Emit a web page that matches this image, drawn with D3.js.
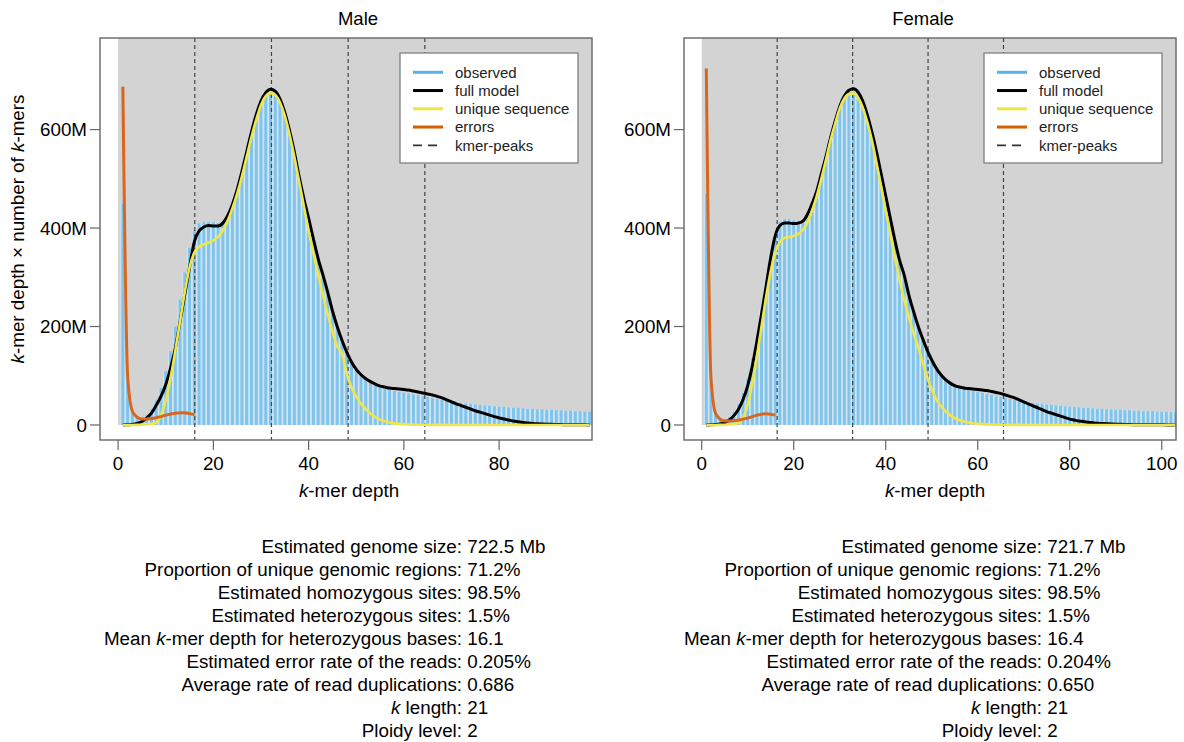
<!DOCTYPE html>
<html>
<head>
<meta charset="utf-8">
<script src="https://cdn.jsdelivr.net/npm/d3@7"></script>
<style>
  body { margin: 0; background: #fff; }
  svg { display: block; font-family: "Liberation Sans", Arial, Helvetica, sans-serif; }
</style>
</head>
<body>
<div id="chart"></div>
<script>
// ---- data (values in millions: k-mer depth x number of k-mers) ----
var maleObserved = [450, 95, 30, 16, 15, 20, 32, 50, 75, 110, 150, 200, 255, 310, 360, 395, 410, 413, 413, 412,
  410, 412, 425, 448, 478, 515, 555, 595, 630, 655, 670, 675, 672, 658, 632, 597, 555, 508, 460, 415,
  372, 333, 298, 264, 228, 197, 169, 145, 125, 110, 99, 91, 85, 80, 76, 73, 71, 69, 67, 66,
  64, 62, 61, 59, 57, 55, 53, 51, 50, 48, 46, 45, 44, 43, 42, 41, 40, 39, 38, 37,
  37, 36, 35, 35, 34, 33, 33, 32, 32, 31, 31, 30, 30, 29, 29, 28, 28, 27, 27];
var maleFull = [0, 0.5, 1, 3, 7, 14, 24, 40, 58, 82, 115, 155, 210, 265, 320, 372, 394, 402, 405, 404,
  404, 410, 425, 448, 478, 515, 555, 595, 630, 658, 675, 682, 678, 662, 635, 598, 555, 505, 460, 420,
  378, 338, 305, 270, 232, 200, 172, 148, 128, 113, 102, 94, 88, 83, 79, 77, 75, 74, 73, 72,
  71, 69, 67, 65, 63, 61, 58, 55, 51, 47, 43, 39.5, 36, 32.5, 29, 26, 23, 20, 17, 14.5,
  12, 10, 8, 6.5, 5, 4, 3.2, 2.5, 2, 1.6, 1.3, 1, 0.8, 0.6, 0.5, 0.4, 0.3, 0.3, 0.2];
var maleUnique = [0, 0, 0, 0.3, 0.8, 1.5, 2.5, 5, 20, 50, 95, 150, 210, 270, 320, 350, 362, 367, 370, 375,
  382, 395, 415, 440, 470, 505, 545, 585, 620, 650, 668, 674, 670, 655, 628, 590, 545, 495, 445, 395,
  350, 305, 265, 225, 190, 160, 145, 105, 76, 58, 43, 32, 23, 16, 11, 7.5, 5, 3.3, 2.2, 1.5,
  1, 0.7, 0.5, 0.4, 0.3, 0.3, 0.2, 0.2, 0.2, 0.1, 0.1, 0.1, 0.1, 0.1, 0.1, 0.1, 0.1, 0.1, 0.1, 0.1,
  0.1, 0.1, 0.1, 0.1, 0.1, 0.1, 0.1, 0.1, 0.1, 0.1, 0.1, 0.1, 0.1, 0.1, 0.1, 0.1, 0.1, 0.1, 0.1];
var maleErrors = [687, 100, 28, 16, 12, 12, 13, 15, 17, 20, 22, 24, 25, 25, 23, 21];
var malePeaks = [16.1, 32.2, 48.3, 64.4];

var femaleObserved = [470, 100, 28, 14, 12, 16, 26, 42, 65, 95, 135, 180, 235, 290, 345, 390, 412, 418, 418, 416,
  414, 414, 422, 442, 470, 505, 545, 585, 620, 650, 668, 676, 676, 668, 650, 622, 588, 548, 503, 458,
  414, 370, 330, 296, 260, 228, 198, 172, 149, 130, 114, 101, 92, 85, 80, 76, 73, 71, 69, 67,
  65, 63, 61, 59, 57, 55, 53, 51, 49, 48, 46, 45, 44, 43, 42, 41, 40, 39, 38, 37,
  37, 36, 35, 35, 34, 33, 33, 32, 32, 31, 31, 30, 30, 29, 29, 28, 28, 28, 27, 27,
  27, 26, 26];
var femaleFull = [0, 0.3, 0.8, 2, 5, 10, 19, 32, 52, 80, 120, 170, 225, 282, 340, 385, 405, 410, 410, 409,
  410, 414, 428, 450, 475, 510, 545, 583, 617, 647, 668, 680, 683, 676, 658, 630, 595, 555, 510, 465,
  420, 375, 335, 305, 265, 232, 202, 176, 152, 132, 115, 102, 92, 85, 80, 77, 75, 74, 73, 72,
  71, 70, 68, 66, 64, 61, 58, 55, 51, 47, 43, 39, 35, 31, 27, 24, 21, 18, 15, 12,
  10, 8, 7, 5.5, 4.5, 3.5, 3, 2.5, 2, 1.6, 1.3, 1, 0.8, 0.7, 0.6, 0.5, 0.4, 0.4, 0.3, 0.3,
  0.2, 0.2, 0.2];
var femaleUnique = [0, 0, 0, 0.2, 0.5, 1, 2, 4, 15, 42, 85, 140, 200, 260, 312, 350, 372, 380, 382, 384,
  388, 396, 412, 436, 465, 500, 538, 578, 612, 643, 663, 672, 673, 664, 645, 615, 578, 532, 485, 435,
  388, 340, 295, 255, 220, 188, 160, 128, 98, 72, 52, 38, 28, 20, 14, 10, 7, 5, 3.5, 2.5,
  1.8, 1.2, 0.8, 0.6, 0.4, 0.3, 0.3, 0.2, 0.2, 0.1, 0.1, 0.1, 0.1, 0.1, 0.1, 0.1, 0.1, 0.1, 0.1, 0.1,
  0.1, 0.1, 0.1, 0.1, 0.1, 0.1, 0.1, 0.1, 0.1, 0.1, 0.1, 0.1, 0.1, 0.1, 0.1, 0.1, 0.1, 0.1, 0.1, 0.1,
  0.1, 0.1, 0.1];
var femaleErrors = [724, 98, 24, 12, 8, 8, 9, 10, 12, 14, 17, 20, 22, 23, 22, 20];
var femalePeaks = [16.4, 32.8, 49.2, 65.6];

var yTicks = [0, 200, 400, 600];
var maleXTicks = [0, 20, 40, 60, 80];
var femaleXTicks = [0, 20, 40, 60, 80, 100];

var legendLabels = ["observed", "full model", "unique sequence", "errors", "kmer-peaks"];
var legendColors = ["#56B4E9", "#000000", "#F0E442", "#D55E00", "#333333"];

var statLabels = ["Estimated genome size", "Proportion of unique genomic regions", "Estimated homozygous sites",
  "Estimated heterozygous sites", "Mean *k*-mer depth for heterozygous bases", "Estimated error rate of the reads",
  "Average rate of read duplications", "*k* length", "Ploidy level"];
var maleStatValues = ["722.5 Mb", "71.2%", "98.5%", "1.5%", "16.1", "0.205%", "0.686", "21", "2"];
var femaleStatValues = ["721.7 Mb", "71.2%", "98.5%", "1.5%", "16.4", "0.204%", "0.650", "21", "2"];

// ---- drawing ----
var svg = d3.select("#chart").append("svg")
  .attr("width", 1184)
  .attr("height", 742);

// write text with *italic* segments as tspans
function richText(sel, str) {
  var parts = str.split("*");
  parts.forEach(function(p, i) {
    if (p === "") return;
    sel.append("tspan").style("font-style", i % 2 ? "italic" : "normal").text(p);
  });
}

function drawPanel(cfg) {
  var x = d3.scaleLinear().domain(cfg.xDomain).range([cfg.left, cfg.right]);
  var y = d3.scaleLinear().domain([-30.5, 786]).range([440, 38]);
  var g = svg.append("g");

  var clipId = "clip" + cfg.id;
  svg.append("clipPath").attr("id", clipId)
    .append("rect")
    .attr("x", cfg.left).attr("y", 38)
    .attr("width", cfg.right - cfg.left).attr("height", 402);

  var plot = g.append("g").attr("clip-path", "url(#" + clipId + ")");

  // grey background from (0,0)
  plot.append("rect")
    .attr("x", x(0)).attr("y", 38)
    .attr("width", cfg.right - x(0)).attr("height", y(0) - 38)
    .style("fill", "#D3D3D3");

  var depth = cfg.observed.map(function(d, i) { return i + 1; });

  // histogram bars: pale backing, blue core
  plot.selectAll("rect.back")
    .data(cfg.observed)
    .enter()
    .append("rect")
    .attr("class", "back")
    .attr("x", function(d, i) { return x(depth[i] - 0.5); })
    .attr("width", x(1) - x(0))
    .attr("y", function(d) { return y(d); })
    .attr("height", function(d) { return y(0) - y(d); })
    .style("fill", "#d2e8f5");

  plot.selectAll("rect.bar")
    .data(cfg.observed)
    .enter()
    .append("rect")
    .attr("class", "bar")
    .attr("x", function(d, i) { return x(depth[i] - 0.32); })
    .attr("width", (x(1) - x(0)) * 0.64)
    .attr("y", function(d) { return y(d); })
    .attr("height", function(d) { return y(0) - y(d); })
    .style("fill", "#80c3eb");

  // kmer peaks
  plot.selectAll("line.peak")
    .data(cfg.peaks)
    .enter()
    .append("line")
    .attr("class", "peak")
    .attr("x1", function(d) { return x(d); })
    .attr("x2", function(d) { return x(d); })
    .attr("y1", 38).attr("y2", 440)
    .style("stroke", "#444")
    .style("stroke-width", 1.2)
    .style("stroke-dasharray", "4,3");

  var line = d3.line()
    .x(function(d, i) { return x(i + 1); })
    .y(function(d) { return y(d); })
    .curve(d3.curveMonotoneX);

  plot.append("path").datum(cfg.full)
    .attr("d", line)
    .style("fill", "none").style("stroke", "#000").style("stroke-width", 3);
  plot.append("path").datum(cfg.unique)
    .attr("d", line)
    .style("fill", "none").style("stroke", "#EEE64A").style("stroke-width", 2.6);
  plot.append("path").datum(cfg.errors)
    .attr("d", line)
    .style("fill", "none").style("stroke", "#D8661E").style("stroke-width", 3);

  // frame
  g.append("rect")
    .attr("x", cfg.left).attr("y", 38)
    .attr("width", cfg.right - cfg.left).attr("height", 402)
    .style("fill", "none").style("stroke", "#666").style("stroke-width", 1.4);

  // y axis
  g.selectAll("line.ytick")
    .data(yTicks)
    .enter()
    .append("line")
    .attr("class", "ytick")
    .attr("x1", cfg.left - 10).attr("x2", cfg.left)
    .attr("y1", function(d) { return y(d); })
    .attr("y2", function(d) { return y(d); })
    .style("stroke", "#666").style("stroke-width", 1.2);
  g.selectAll("text.ytick")
    .data(yTicks)
    .enter()
    .append("text")
    .attr("class", "ytick")
    .attr("x", cfg.left - 13)
    .attr("y", function(d) { return y(d) + 6.8; })
    .attr("text-anchor", "end")
    .attr("font-size", 18.8)
    .text(function(d) { return d === 0 ? "0" : d + "M"; });

  // x axis
  g.selectAll("line.xtick")
    .data(cfg.xTicks)
    .enter()
    .append("line")
    .attr("class", "xtick")
    .attr("x1", function(d) { return x(d); })
    .attr("x2", function(d) { return x(d); })
    .attr("y1", 440).attr("y2", 450)
    .style("stroke", "#666").style("stroke-width", 1.2);
  g.selectAll("text.xtick")
    .data(cfg.xTicks)
    .enter()
    .append("text")
    .attr("class", "xtick")
    .attr("x", function(d) { return x(d); })
    .attr("y", 470)
    .attr("text-anchor", "middle")
    .attr("font-size", 18.8)
    .text(function(d) { return d; });

  // titles
  g.append("text")
    .attr("x", cfg.titleX).attr("y", 25)
    .attr("text-anchor", "middle").attr("font-size", 18.5)
    .text(cfg.title);
  var xl = g.append("text")
    .attr("x", cfg.xLabelX).attr("y", 497)
    .attr("text-anchor", "middle").attr("font-size", 18.8);
  richText(xl, "*k*-mer depth");

  // legend
  var lx = cfg.right - 14 - 178;
  g.append("rect")
    .attr("x", lx).attr("y", 53)
    .attr("width", 178).attr("height", 110)
    .style("fill", "#fff").style("stroke", "#777").style("stroke-width", 1.2);
  g.selectAll("line.leg")
    .data(legendLabels)
    .enter()
    .append("line")
    .attr("class", "leg")
    .attr("x1", lx + 13).attr("x2", lx + 43)
    .attr("y1", function(d, i) { return 72.3 + i * 18.25; })
    .attr("y2", function(d, i) { return 72.3 + i * 18.25; })
    .style("stroke", function(d, i) { return legendColors[i]; })
    .style("stroke-width", function(d, i) { return i === 4 ? 1.8 : 3; })
    .style("stroke-dasharray", function(d, i) { return i === 4 ? "9,6" : null; });
  g.selectAll("text.leg")
    .data(legendLabels)
    .enter()
    .append("text")
    .attr("class", "leg")
    .attr("x", lx + 55)
    .attr("y", function(d, i) { return 72.3 + i * 18.25 + 5.2; })
    .attr("font-size", 15)
    .style("fill", "#222")
    .text(function(d) { return d; });

  // summary statistics
  statLabels.forEach(function(lab, i) {
    var yy = 553 + i * 23;
    var t = g.append("text")
      .attr("x", cfg.statX).attr("y", yy)
      .attr("text-anchor", "end").attr("font-size", 18.8);
    richText(t, lab + ":");
    g.append("text")
      .attr("x", cfg.statX + 5.2).attr("y", yy)
      .attr("font-size", 18.8)
      .text(cfg.statValues[i]);
  });
}

drawPanel({
  id: "M", title: "Male", left: 100, right: 592, xDomain: [-3.8, 99.5],
  observed: maleObserved, full: maleFull, unique: maleUnique, errors: maleErrors,
  peaks: malePeaks, xTicks: maleXTicks, titleX: 358, xLabelX: 349,
  statX: 462, statValues: maleStatValues
});
drawPanel({
  id: "F", title: "Female", left: 684, right: 1176, xDomain: [-3.85, 103.1],
  observed: femaleObserved, full: femaleFull, unique: femaleUnique, errors: femaleErrors,
  peaks: femalePeaks, xTicks: femaleXTicks, titleX: 923, xLabelX: 935,
  statX: 1042, statValues: femaleStatValues
});

// shared y label
var yl = svg.append("text")
  .attr("transform", "translate(24,229) rotate(-90)")
  .attr("text-anchor", "middle")
  .attr("font-size", 18.8);
richText(yl, "*k*-mer depth \u00d7 number of *k*-mers");
</script>
</body>
</html>
